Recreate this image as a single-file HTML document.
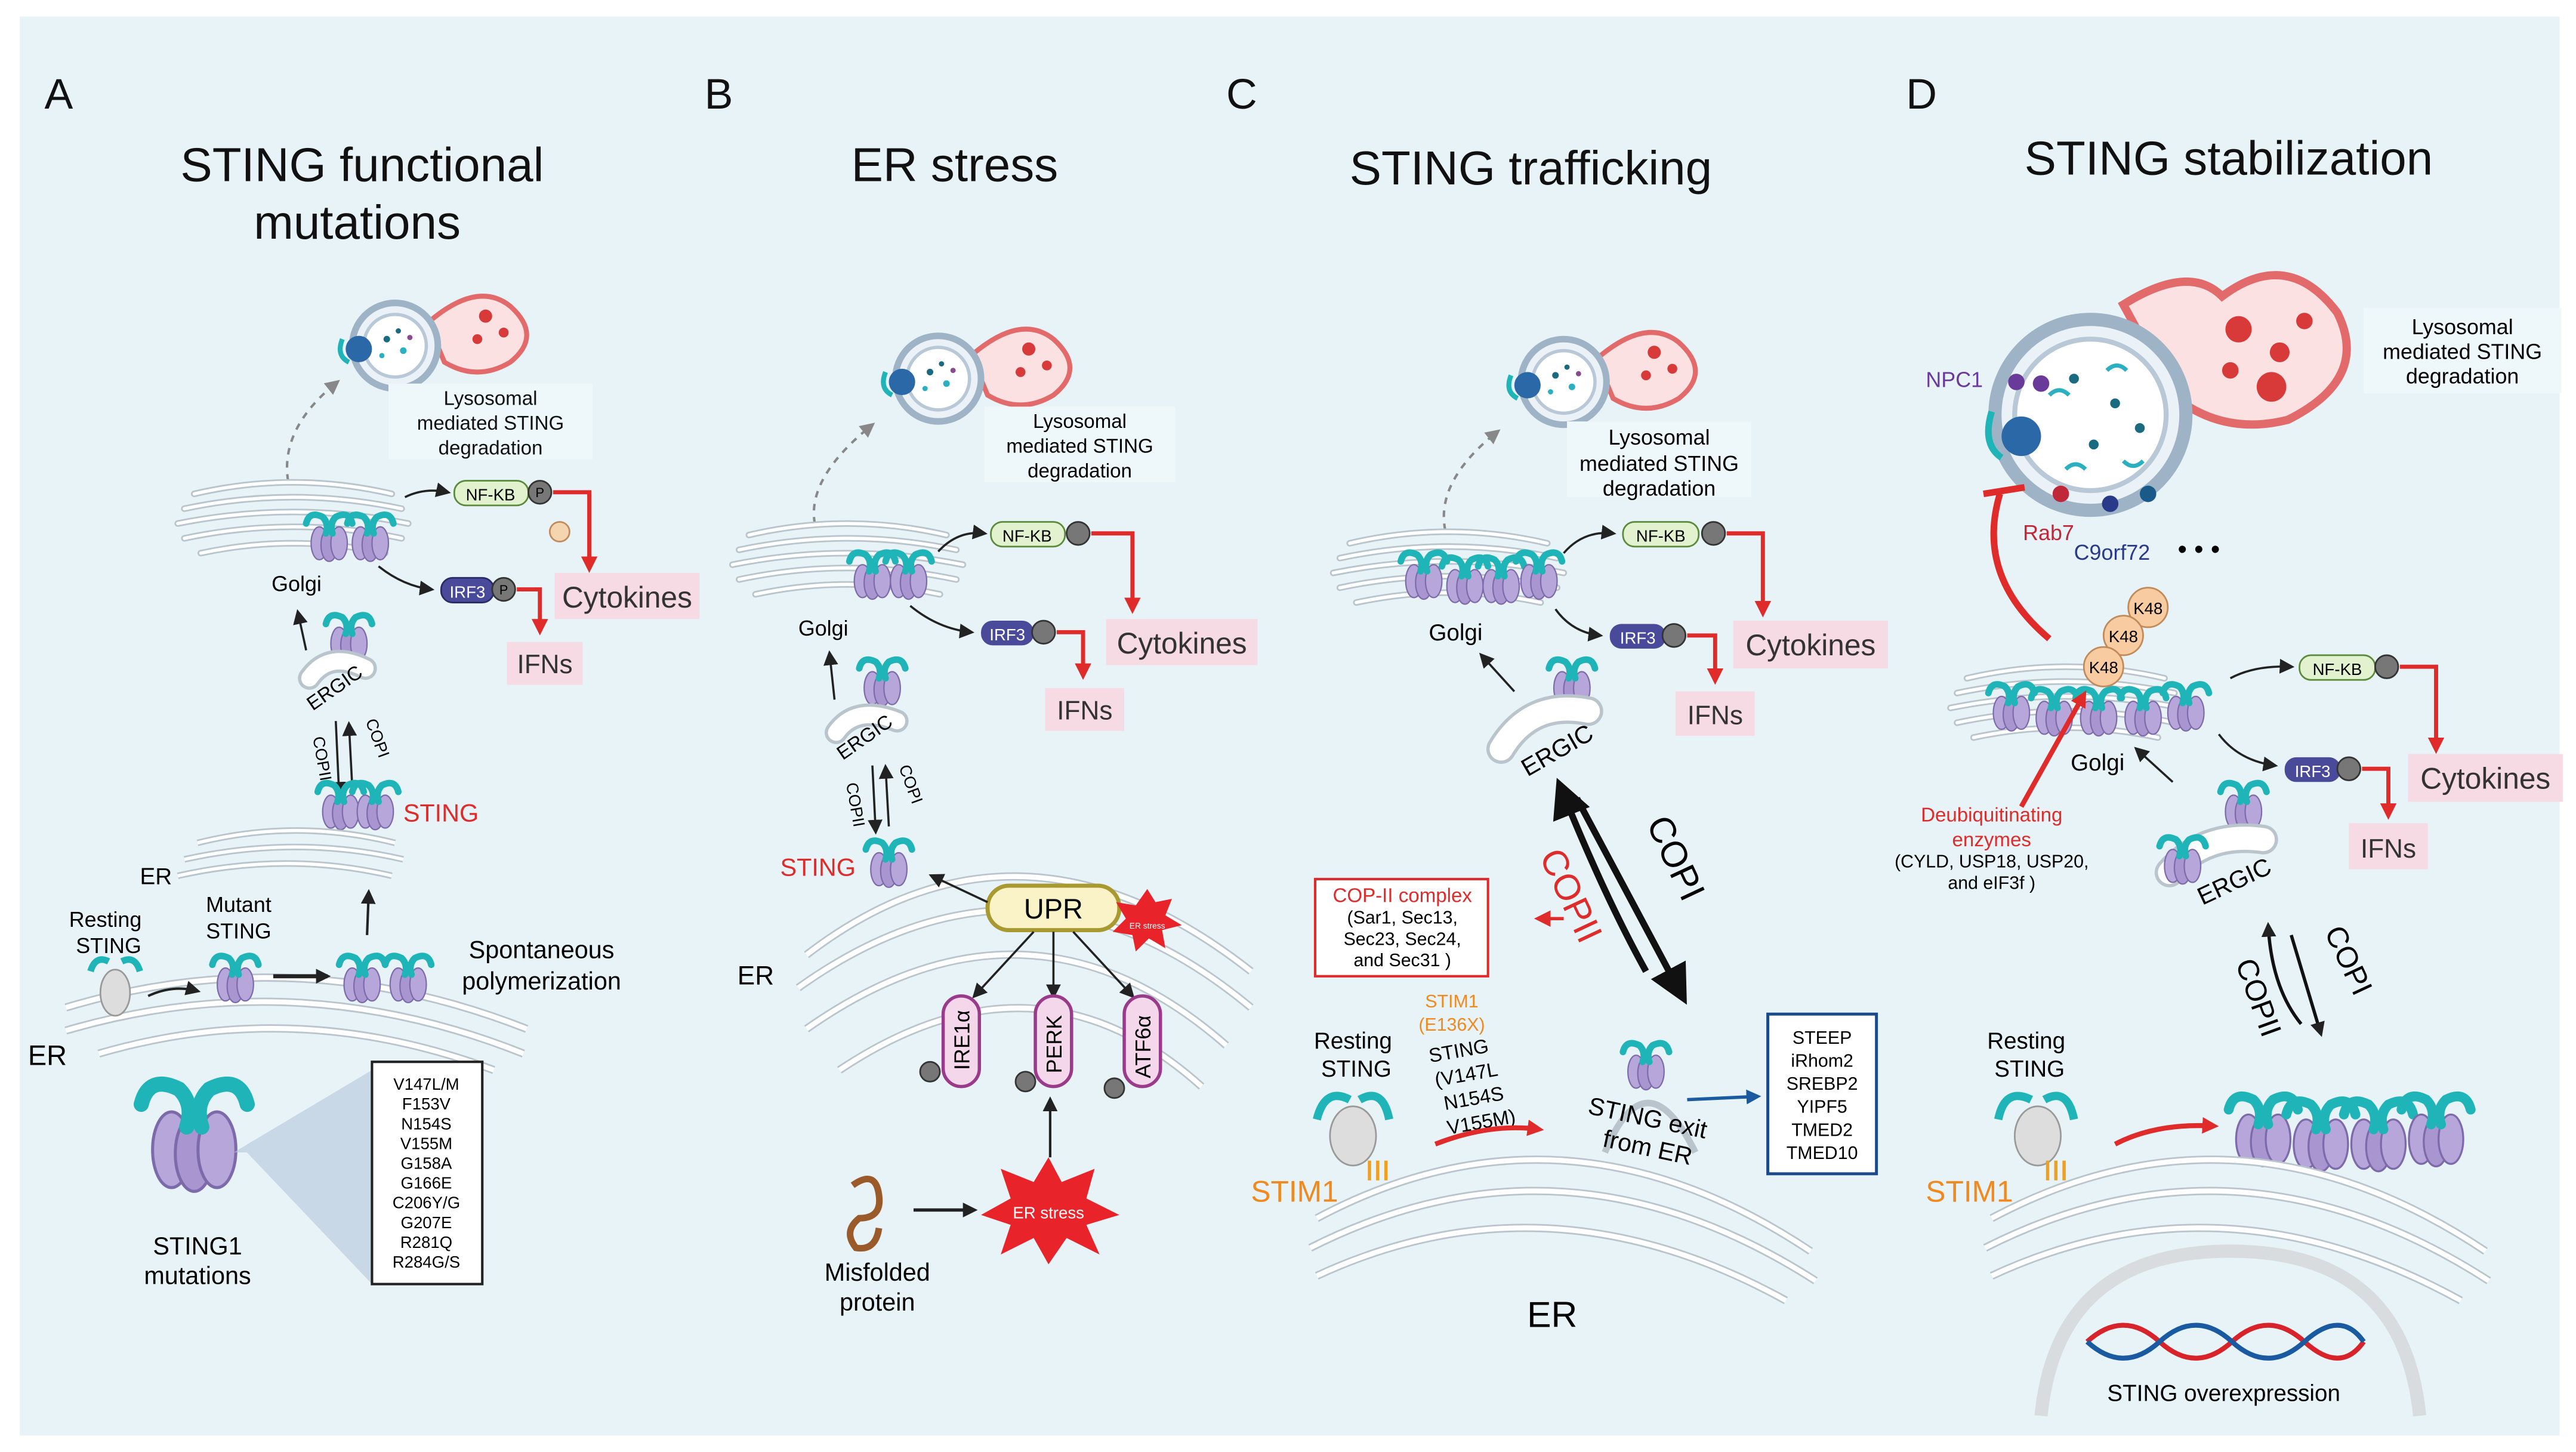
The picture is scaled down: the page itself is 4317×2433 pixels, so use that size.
<!DOCTYPE html>
<html><head><meta charset="utf-8"><style>
html,body{margin:0;padding:0;background:#fff;}
svg{display:block;}
text{font-family:"Liberation Sans",sans-serif;}
</style></head><body>
<svg width="4317" height="2433" viewBox="0 0 1565 882" xmlns="http://www.w3.org/2000/svg">
<defs>
<marker id="ak" markerUnits="userSpaceOnUse" markerWidth="9" markerHeight="9" refX="7" refY="4.5" orient="auto"><path d="M0,0 L9,4.5 L0,9 z" fill="#222"/></marker>
<marker id="akb" markerUnits="userSpaceOnUse" markerWidth="24" markerHeight="24" refX="18" refY="12" orient="auto"><path d="M0,0 L24,12 L0,24 z" fill="#111"/></marker>
<marker id="ar" markerUnits="userSpaceOnUse" markerWidth="10" markerHeight="10" refX="7" refY="5" orient="auto"><path d="M0,0 L10,5 L0,10 z" fill="#e02b2b"/></marker>
<marker id="ab" markerUnits="userSpaceOnUse" markerWidth="9" markerHeight="9" refX="7" refY="4.5" orient="auto"><path d="M0,0 L9,4.5 L0,9 z" fill="#1a5aa0"/></marker>
<marker id="ag" markerUnits="userSpaceOnUse" markerWidth="9" markerHeight="9" refX="7" refY="4.5" orient="auto"><path d="M0,0 L9,4.5 L0,9 z" fill="#888"/></marker>
<g id="st">
<ellipse cx="-6" cy="8" rx="5" ry="10" fill="#b7a6d9" stroke="#7d6aaa" stroke-width="0.8"/>
<ellipse cx="0" cy="9" rx="5" ry="10" fill="#a995d0" stroke="#7d6aaa" stroke-width="0.8"/>
<ellipse cx="6" cy="8" rx="5" ry="10" fill="#b7a6d9" stroke="#7d6aaa" stroke-width="0.8"/>
<path d="M-14,-4 Q-12,-12 -4,-8 Q0,-4 -2,2" fill="none" stroke="#1fb5b8" stroke-width="4" stroke-linecap="round"/>
<path d="M14,-4 Q12,-12 4,-8 Q0,-4 2,2" fill="none" stroke="#1fb5b8" stroke-width="4" stroke-linecap="round"/>
</g>
<g id="golgi" fill="none" stroke="#b9c4cc" stroke-width="4" stroke-linecap="round">
<path d="M0,0 Q60,-14 120,0"/><path d="M-6,9 Q60,-5 126,9"/><path d="M-10,18 Q60,4 130,18"/><path d="M-6,27 Q60,13 126,27"/><path d="M4,36 Q60,24 116,36"/>
</g>
<g id="golgiw" fill="none" stroke="#fff" stroke-width="2" stroke-linecap="round">
<path d="M0,0 Q60,-14 120,0"/><path d="M-6,9 Q60,-5 126,9"/><path d="M-10,18 Q60,4 130,18"/><path d="M-6,27 Q60,13 126,27"/><path d="M4,36 Q60,24 116,36"/>
</g>
<g id="lyso">
<path d="M20,-14 Q50,-40 70,-24 Q90,-6 70,10 Q50,22 30,10 Z" fill="#fbe1e1" stroke="#e36a6a" stroke-width="3"/>
<circle cx="0" cy="0" r="26" fill="#eaf1f7" stroke="#9fb3c6" stroke-width="4"/>
<circle cx="0" cy="0" r="19" fill="#fff" stroke="#b8c8d6" stroke-width="2"/>
<circle cx="-5" cy="-4" r="2" fill="#1a6a80"/><circle cx="5" cy="3" r="2" fill="#2ab0c0"/><circle cx="2" cy="-9" r="1.6" fill="#1a6a80"/><circle cx="-8" cy="6" r="1.6" fill="#2ab0c0"/><circle cx="9" cy="-5" r="1.6" fill="#8a4a90"/>
<circle cx="55" cy="-18" r="4" fill="#d83a3a"/><circle cx="66" cy="-8" r="3" fill="#d83a3a"/><circle cx="50" cy="-4" r="3" fill="#d83a3a"/>
<circle cx="-22" cy="2" r="8" fill="#2a68a8"/><path d="M-32,-4 q-4,10 4,14" stroke="#1fb5b8" stroke-width="3" fill="none"/>
</g>
</defs>

<rect x="0" y="0" width="1565" height="882" fill="#fff"/>
<rect x="12" y="10" width="1543" height="862" fill="#e7f3f6"/>

<g font-size="26" fill="#111">
<text x="27" y="66">A</text><text x="428" y="66">B</text><text x="745" y="66">C</text><text x="1158" y="66">D</text>
</g>
<g font-size="29" fill="#111" text-anchor="middle">
<text x="220" y="110">STING functional</text><text x="217" y="145">mutations</text>
<text x="580" y="110">ER stress</text>
<text x="930" y="112">STING trafficking</text>
<text x="1354" y="106">STING stabilization</text>
</g>

<!-- Panel A -->
<use href="#lyso" x="240" y="210"/>
<rect x="236" y="233" width="124" height="46" fill="#eef7f9"/>
<g font-size="12" text-anchor="middle" fill="#111"><text x="298" y="246">Lysosomal</text><text x="298" y="261">mediated STING</text><text x="298" y="276">degradation</text></g>
<path d="M175,292 Q170,260 205,232" fill="none" stroke="#888" stroke-width="1.5" stroke-dasharray="4,4" marker-end="url(#ag)"/>
<use href="#golgi" x="118" y="300"/><use href="#golgiw" x="118" y="300"/>
<use href="#st" x="200" y="322"/><use href="#st" x="225" y="322"/>
<text x="165" y="359" font-size="13">Golgi</text>
<rect x="276" y="292" width="45" height="15" rx="7" fill="#e2f2cf" stroke="#5a8a3a"/><text x="298" y="304" font-size="10" text-anchor="middle">NF-KB</text>
<circle cx="328" cy="299" r="7" fill="#777" stroke="#333"/><text x="328" y="302" font-size="8" text-anchor="middle">P</text>
<rect x="268" y="351" width="32" height="15" rx="7" fill="#4a4a9a" stroke="#2a2a6a"/><text x="284" y="363" font-size="10" fill="#fff" text-anchor="middle">IRF3</text>
<circle cx="306" cy="358" r="7" fill="#777" stroke="#333"/><text x="306" y="361" font-size="8" text-anchor="middle">P</text>
<path d="M246,302 Q258,296 272,299" fill="none" stroke="#222" stroke-width="1.3" marker-end="url(#ak)"/>
<path d="M230,344 Q245,356 262,358" fill="none" stroke="#222" stroke-width="1.3" marker-end="url(#ak)"/>
<path d="M336,299 H358 V345" fill="none" stroke="#e02b2b" stroke-width="2.5" marker-end="url(#ar)"/>
<path d="M314,358 H328 V383" fill="none" stroke="#e02b2b" stroke-width="2.5" marker-end="url(#ar)"/>
<circle cx="340" cy="323" r="6" fill="#f5d4b0" stroke="#c08a5a"/>
<rect x="337" y="348" width="88" height="28" fill="#f6dbe4"/><text x="381" y="369" font-size="18" text-anchor="middle" fill="#333">Cytokines</text>
<rect x="308" y="390" width="46" height="26" fill="#f6dbe4"/><text x="331" y="409" font-size="16" text-anchor="middle" fill="#333">IFNs</text>
<use href="#st" x="212" y="383"/>
<path d="M188,412 Q200,395 222,406" fill="none" stroke="#b9c4cc" stroke-width="14" stroke-linecap="round"/>
<path d="M188,412 Q200,395 222,406" fill="none" stroke="#fff" stroke-width="10" stroke-linecap="round"/>
<text x="190" y="432" font-size="12" transform="rotate(-35 190 432)">ERGIC</text>
<path d="M186,395 L181,372" stroke="#222" stroke-width="1.3" marker-end="url(#ak)"/>
<path d="M204,438 L206,482" stroke="#222" stroke-width="1.3" marker-end="url(#ak)"/>
<path d="M214,478 L212,440" stroke="#222" stroke-width="1.3" marker-end="url(#ak)"/>
<text x="190" y="448" font-size="10" transform="rotate(80 190 448)">COPII</text>
<text x="222" y="438" font-size="10" transform="rotate(70 222 438)">COPI</text>
<use href="#st" x="207" y="485"/><use href="#st" x="228" y="485"/>
<text x="245" y="499" font-size="15" fill="#e02b2b">STING</text>
<g transform="translate(120,512)"><path d="M0,0 Q60,-15 120,0 M-8,10 Q60,-5 125,10 M-12,20 Q55,5 118,20" fill="none" stroke="#b9c4cc" stroke-width="4"/><path d="M0,0 Q60,-15 120,0 M-8,10 Q60,-5 125,10 M-12,20 Q55,5 118,20" fill="none" stroke="#fff" stroke-width="2"/></g>
<text x="85" y="537" font-size="14">ER</text>
<path d="M223,568 L224,542" stroke="#222" stroke-width="1.5" marker-end="url(#ak)"/>
<g fill="none" stroke="#b9c4cc" stroke-width="5"><path d="M40,612 Q180,570 320,625"/><path d="M40,626 Q180,585 318,640"/><path d="M60,640 Q180,605 300,650"/></g>
<g fill="none" stroke="#fff" stroke-width="3"><path d="M40,612 Q180,570 320,625"/><path d="M40,626 Q180,585 318,640"/><path d="M60,640 Q180,605 300,650"/></g>
<text x="17" y="647" font-size="17">ER</text>
<g font-size="13" text-anchor="middle"><text x="64" y="563">Resting</text><text x="66" y="579">STING</text><text x="145" y="554">Mutant</text><text x="145" y="570">STING</text></g>
<ellipse cx="70" cy="603" rx="9" ry="14" fill="#ddd" stroke="#999"/><path d="M55,590 Q58,580 66,584 M85,590 Q82,580 74,584" stroke="#1fb5b8" stroke-width="4" fill="none"/>
<use href="#st" x="143" y="590"/>
<path d="M90,605 Q105,598 120,602" fill="none" stroke="#222" stroke-width="1.5" marker-end="url(#ak)"/>
<path d="M166,593 L199,593" stroke="#222" stroke-width="2.5" marker-end="url(#ak)"/>
<use href="#st" x="220" y="590"/><use href="#st" x="248" y="590"/>
<g font-size="15" text-anchor="middle"><text x="329" y="582">Spontaneous</text><text x="329" y="601">polymerization</text></g>
<use href="#st" transform="translate(118,680) scale(2.3)"/>
<polygon points="142,700 226,650 226,780 150,700" fill="#b4c6dc" opacity="0.6"/>
<rect x="226" y="645" width="67" height="135" fill="#fff" stroke="#222" stroke-width="1.5"/>
<g font-size="10" text-anchor="middle"><text x="259" y="662">V147L/M</text><text x="259" y="674">F153V</text><text x="259" y="686">N154S</text><text x="259" y="698">V155M</text><text x="259" y="710">G158A</text><text x="259" y="722">G166E</text><text x="259" y="734">C206Y/G</text><text x="259" y="746">G207E</text><text x="259" y="758">R281Q</text><text x="259" y="770">R284G/S</text></g>
<g font-size="15" text-anchor="middle"><text x="120" y="762">STING1</text><text x="120" y="780">mutations</text></g>

<!-- Panel B -->
<use href="#lyso" x="570" y="230"/>
<rect x="598" y="247" width="116" height="46" fill="#eef7f9"/>
<g font-size="12" text-anchor="middle"><text x="656" y="260">Lysosomal</text><text x="656" y="275">mediated STING</text><text x="656" y="290">degradation</text></g>
<path d="M495,318 Q490,290 530,258" fill="none" stroke="#888" stroke-width="1.5" stroke-dasharray="4,4" marker-end="url(#ag)"/>
<use href="#golgi" x="455" y="325"/><use href="#golgiw" x="455" y="325"/>
<use href="#st" x="530" y="345"/><use href="#st" x="552" y="345"/>
<text x="485" y="386" font-size="13">Golgi</text>
<rect x="602" y="317" width="45" height="15" rx="7" fill="#e2f2cf" stroke="#5a8a3a"/><text x="624" y="329" font-size="10" text-anchor="middle">NF-KB</text>
<circle cx="655" cy="324" r="7" fill="#777" stroke="#333"/>
<rect x="596" y="377" width="32" height="15" rx="7" fill="#4a4a9a"/><text x="612" y="389" font-size="10" fill="#fff" text-anchor="middle">IRF3</text>
<circle cx="634" cy="384" r="7" fill="#777" stroke="#333"/>
<path d="M570,335 Q582,322 598,324" fill="none" stroke="#222" stroke-width="1.3" marker-end="url(#ak)"/>
<path d="M553,368 Q570,382 590,384" fill="none" stroke="#222" stroke-width="1.3" marker-end="url(#ak)"/>
<path d="M663,324 H688 V370" fill="none" stroke="#e02b2b" stroke-width="2.5" marker-end="url(#ar)"/>
<path d="M642,384 H658 V410" fill="none" stroke="#e02b2b" stroke-width="2.5" marker-end="url(#ar)"/>
<rect x="672" y="376" width="92" height="28" fill="#f6dbe4"/><text x="718" y="397" font-size="18" text-anchor="middle" fill="#333">Cytokines</text>
<rect x="635" y="418" width="48" height="26" fill="#f6dbe4"/><text x="659" y="437" font-size="16" text-anchor="middle" fill="#333">IFNs</text>
<use href="#st" x="536" y="410"/>
<path d="M508,445 Q520,428 545,438" fill="none" stroke="#b9c4cc" stroke-width="14" stroke-linecap="round"/>
<path d="M508,445 Q520,428 545,438" fill="none" stroke="#fff" stroke-width="10" stroke-linecap="round"/>
<text x="512" y="462" font-size="12" transform="rotate(-35 512 462)">ERGIC</text>
<path d="M507,425 L504,397" stroke="#222" stroke-width="1.3" marker-end="url(#ak)"/>
<path d="M530,465 L532,505" stroke="#222" stroke-width="1.3" marker-end="url(#ak)"/>
<path d="M540,502 L538,466" stroke="#222" stroke-width="1.3" marker-end="url(#ak)"/>
<text x="514" y="476" font-size="10" transform="rotate(80 514 476)">COPII</text>
<text x="546" y="466" font-size="10" transform="rotate(70 546 466)">COPI</text>
<use href="#st" x="540" y="520"/>
<text x="474" y="532" font-size="15" fill="#e02b2b">STING</text>
<g fill="none" stroke="#b9c4cc" stroke-width="5"><path d="M490,580 Q620,480 760,590"/><path d="M485,600 Q625,500 760,612"/><path d="M490,625 Q625,530 745,635"/><path d="M510,650 Q630,570 730,660"/></g>
<g fill="none" stroke="#fff" stroke-width="3"><path d="M490,580 Q620,480 760,590"/><path d="M485,600 Q625,500 760,612"/><path d="M490,625 Q625,530 745,635"/><path d="M510,650 Q630,570 730,660"/></g>
<text x="448" y="598" font-size="16">ER</text>
<rect x="600" y="538" width="80" height="27" rx="13" fill="#fbf3c8" stroke="#a89a30" stroke-width="2.5"/><text x="640" y="558" font-size="17" text-anchor="middle">UPR</text>
<path d="M600,548 L566,532" stroke="#222" stroke-width="1.3" marker-end="url(#ak)"/>
<polygon points="697,540 702,548 712,546 708,556 718,562 706,565 708,576 698,570 690,578 688,568 676,566 684,558 678,548 690,550" fill="#e8232a"/>
<text x="697" y="564" font-size="5" fill="#fff" text-anchor="middle">ER stress</text>
<path d="M628,566 L592,605" stroke="#222" stroke-width="1.3" marker-end="url(#ak)"/>
<path d="M640,566 L640,605" stroke="#222" stroke-width="1.3" marker-end="url(#ak)"/>
<path d="M652,566 L688,605" stroke="#222" stroke-width="1.3" marker-end="url(#ak)"/>
<g fill="#f4d7ea" stroke="#9a3a8a" stroke-width="2">
<rect x="573" y="605" width="22" height="55" rx="11"/><rect x="629" y="605" width="22" height="55" rx="11"/><rect x="683" y="605" width="22" height="55" rx="11"/></g>
<g font-size="13"><text x="589" y="650" transform="rotate(-90 589 650)">IRE1α</text><text x="645" y="652" transform="rotate(-90 645 652)">PERK</text><text x="699" y="655" transform="rotate(-90 699 655)">ATF6α</text></g>
<circle cx="565" cy="651" r="6" fill="#777" stroke="#333"/><circle cx="623" cy="657" r="6" fill="#777" stroke="#333"/><circle cx="677" cy="661" r="6" fill="#777" stroke="#333"/>
<path d="M638,703 L638,668" stroke="#222" stroke-width="1.5" marker-end="url(#ak)"/>
<polygon points="637,703 645,718 665,710 660,728 680,738 660,744 668,762 648,752 637,768 628,752 608,762 614,744 596,738 614,728 608,710 628,718" fill="#e8232a"/>
<text x="637" y="740" font-size="10" fill="#fff" text-anchor="middle">ER stress</text>
<path d="M518,720 q14,-10 16,6 q2,14 -12,14 q-10,8 -2,18 q12,2 14,-12" fill="none" stroke="#9a5a2a" stroke-width="4"/>
<path d="M555,735 L592,735" stroke="#222" stroke-width="2" marker-end="url(#ak)"/>
<g font-size="15" text-anchor="middle"><text x="533" y="778">Misfolded</text><text x="533" y="796">protein</text></g>

<!-- Panel C -->
<use href="#lyso" x="950" y="232"/>
<rect x="952" y="256" width="112" height="46" fill="#eef7f9"/>
<g font-size="13" text-anchor="middle"><text x="1008" y="270">Lysosomal</text><text x="1008" y="286">mediated STING</text><text x="1008" y="301">degradation</text></g>
<path d="M878,322 Q872,292 910,262" fill="none" stroke="#888" stroke-width="1.5" stroke-dasharray="4,4" marker-end="url(#ag)"/>
<use href="#golgi" x="820" y="330"/><use href="#golgiw" x="820" y="330"/>
<use href="#st" x="865" y="345"/><use href="#st" x="890" y="348"/><use href="#st" x="912" y="348"/><use href="#st" x="935" y="345"/>
<text x="868" y="389" font-size="14">Golgi</text>
<rect x="986" y="317" width="46" height="15" rx="7" fill="#e2f2cf" stroke="#5a8a3a"/><text x="1009" y="329" font-size="10" text-anchor="middle">NF-KB</text>
<circle cx="1041" cy="324" r="7" fill="#777" stroke="#333"/>
<rect x="978" y="379" width="34" height="15" rx="7" fill="#4a4a9a"/><text x="995" y="391" font-size="10" fill="#fff" text-anchor="middle">IRF3</text>
<circle cx="1017" cy="386" r="7" fill="#777" stroke="#333"/>
<path d="M950,336 Q962,322 980,324" fill="none" stroke="#222" stroke-width="1.3" marker-end="url(#ak)"/>
<path d="M945,370 Q955,384 972,386" fill="none" stroke="#222" stroke-width="1.3" marker-end="url(#ak)"/>
<path d="M1049,324 H1071 V372" fill="none" stroke="#e02b2b" stroke-width="2.5" marker-end="url(#ar)"/>
<path d="M1025,386 H1042 V413" fill="none" stroke="#e02b2b" stroke-width="2.5" marker-end="url(#ar)"/>
<rect x="1053" y="377" width="94" height="29" fill="#f6dbe4"/><text x="1100" y="398" font-size="18" text-anchor="middle" fill="#333">Cytokines</text>
<rect x="1018" y="420" width="48" height="27" fill="#f6dbe4"/><text x="1042" y="440" font-size="16" text-anchor="middle" fill="#333">IFNs</text>
<use href="#st" x="955" y="410"/>
<path d="M912,455 Q930,425 965,432" fill="none" stroke="#b9c4cc" stroke-width="18" stroke-linecap="round"/>
<path d="M912,455 Q930,425 965,432" fill="none" stroke="#fff" stroke-width="14" stroke-linecap="round"/>
<text x="928" y="472" font-size="15" transform="rotate(-30 928 472)">ERGIC</text>
<path d="M920,420 L900,398" stroke="#222" stroke-width="1.3" marker-end="url(#ak)"/>
<path d="M958,485 L1022,605" stroke="#111" stroke-width="4" marker-end="url(#akb)"/>
<path d="M1000,590 Q975,545 948,478" fill="none" stroke="#111" stroke-width="4" marker-end="url(#akb)"/>
<text x="1000" y="500" font-size="22" transform="rotate(65 1000 500)">COPI</text>
<text x="935" y="520" font-size="22" fill="#e02b2b" transform="rotate(65 935 520)">COPII</text>
<path d="M950,558 L935,558" stroke="#e02b2b" stroke-width="2" marker-end="url(#ar)"/>
<rect x="799" y="534" width="105" height="59" fill="#fff" stroke="#e02b2b" stroke-width="1.5"/>
<text x="852" y="548" font-size="12" fill="#e02b2b" text-anchor="middle">COP-II complex</text>
<g font-size="11" text-anchor="middle"><text x="852" y="561">(Sar1, Sec13,</text><text x="852" y="574">Sec23, Sec24,</text><text x="852" y="587">and Sec31 )</text></g>
<text x="882" y="612" font-size="11" fill="#f08a20" text-anchor="middle">STIM1</text>
<text x="882" y="626" font-size="11" fill="#f08a20" text-anchor="middle">(E136X)</text>
<g font-size="12" text-anchor="middle" transform="rotate(-10 890 660)"><text x="890" y="642">STING</text><text x="892" y="657">(V147L</text><text x="894" y="672">N154S</text><text x="896" y="687">V155M)</text></g>
<path d="M872,695 Q905,682 935,686" fill="none" stroke="#e02b2b" stroke-width="3" marker-end="url(#ar)"/>
<g font-size="14" text-anchor="middle"><text x="822" y="637">Resting</text><text x="824" y="654">STING</text></g>
<ellipse cx="822" cy="690" rx="14" ry="18" fill="#ddd" stroke="#999"/><path d="M800,680 Q805,660 820,668 M844,680 Q840,660 826,668" stroke="#1fb5b8" stroke-width="5" fill="none"/>
<text x="760" y="730" font-size="18" fill="#f08a20">STIM1</text>
<g stroke="#f0a020" stroke-width="2"><path d="M832,705 v12 M837,705 v12 M842,705 v12"/></g>
<g fill="none" stroke="#b9c4cc" stroke-width="5"><path d="M800,740 Q950,660 1100,760"/><path d="M796,758 Q950,680 1103,778"/><path d="M800,775 Q940,710 1085,790"/></g>
<g fill="none" stroke="#fff" stroke-width="3"><path d="M800,740 Q950,660 1100,760"/><path d="M796,758 Q950,680 1103,778"/><path d="M800,775 Q940,710 1085,790"/></g>
<path d="M975,700 Q1000,640 1030,700" fill="none" stroke="#b9c4cc" stroke-width="4"/>
<use href="#st" x="1000" y="643"/>
<g font-size="15" text-anchor="middle"><text x="1000" y="684" transform="rotate(12 1000 684)">STING exit</text><text x="1000" y="702" transform="rotate(12 1000 702)">from ER</text></g>
<path d="M1025,668 L1068,666" stroke="#1a5aa0" stroke-width="2" marker-end="url(#ab)"/>
<rect x="1074" y="616" width="66" height="97" fill="#fff" stroke="#1a4a8a" stroke-width="1.8"/>
<g font-size="11" text-anchor="middle"><text x="1107" y="634">STEEP</text><text x="1107" y="648">iRhom2</text><text x="1107" y="662">SREBP2</text><text x="1107" y="676">YIPF5</text><text x="1107" y="690">TMED2</text><text x="1107" y="704">TMED10</text></g>
<text x="943" y="806" font-size="22" text-anchor="middle">ER</text>

<!-- Panel D -->
<path d="M1290,185 Q1330,160 1350,180 Q1390,150 1420,190 Q1440,230 1390,255 Q1350,265 1320,240 Z" fill="#fbe1e1" stroke="#e36a6a" stroke-width="5"/>
<g fill="#d83a3a"><circle cx="1360" cy="200" r="8"/><circle cx="1385" cy="214" r="6"/><circle cx="1380" cy="235" r="9"/><circle cx="1400" cy="195" r="5"/><circle cx="1355" cy="225" r="5"/></g>
<circle cx="1270" cy="252" r="58" fill="#eaf1f7" stroke="#9fb3c6" stroke-width="8"/>
<circle cx="1270" cy="252" r="46" fill="#fff" stroke="#b8c8d6" stroke-width="3"/>
<g fill="#1a6a80"><circle cx="1260" cy="230" r="3"/><circle cx="1285" cy="245" r="3"/><circle cx="1272" cy="270" r="3"/><circle cx="1300" cy="260" r="3"/></g>
<g fill="none" stroke="#2ab0c0" stroke-width="2.5"><path d="M1245,240 q6,-6 12,0"/><path d="M1280,225 q6,-6 12,0"/><path d="M1255,285 q6,-6 12,0"/><path d="M1290,280 q6,6 12,0"/></g>
<circle cx="1228" cy="265" r="12" fill="#2a68a8"/><path d="M1210,250 q-6,20 6,28" stroke="#1fb5b8" stroke-width="4" fill="none"/>
<circle cx="1225" cy="232" r="5" fill="#6a3a9a"/><circle cx="1240" cy="233" r="5" fill="#6a3a9a"/>
<text x="1170" y="235" font-size="13" fill="#6a3a9a">NPC1</text>
<circle cx="1252" cy="300" r="5" fill="#c0283a"/><circle cx="1282" cy="306" r="5" fill="#2a3a8a"/><circle cx="1305" cy="300" r="5" fill="#1a5a8a"/>
<text x="1229" y="328" font-size="13" fill="#c0283a">Rab7</text>
<text x="1260" y="340" font-size="13" fill="#2a3a8a">C9orf72</text>
<text x="1323" y="339" font-size="16">• • •</text>
<rect x="1436" y="187" width="120" height="52" fill="#eef7f9"/>
<g font-size="13" text-anchor="middle"><text x="1496" y="203">Lysosomal</text><text x="1496" y="218">mediated STING</text><text x="1496" y="233">degradation</text></g>
<path d="M1245,388 Q1200,350 1215,300" fill="none" stroke="#e02b2b" stroke-width="4"/>
<path d="M1205,300 L1230,296" stroke="#e02b2b" stroke-width="4"/>
<use href="#golgi" x="1195" y="412"/><use href="#golgiw" x="1195" y="412"/>
<use href="#st" x="1222" y="425"/><use href="#st" x="1248" y="428"/><use href="#st" x="1275" y="428"/><use href="#st" x="1302" y="428"/><use href="#st" x="1328" y="425"/>
<g fill="#f8cba0" stroke="#c08a5a"><circle cx="1305" cy="369" r="12"/><circle cx="1290" cy="386" r="12"/><circle cx="1278" cy="405" r="12"/></g>
<g font-size="10" text-anchor="middle"><text x="1305" y="373">K48</text><text x="1290" y="390">K48</text><text x="1278" y="409">K48</text></g>
<text x="1258" y="468" font-size="14">Golgi</text>
<path d="M1228,490 L1266,422" stroke="#e02b2b" stroke-width="3" marker-end="url(#ar)"/>
<g font-size="12" text-anchor="middle"><text x="1210" y="499" fill="#e02b2b">Deubiquitinating</text><text x="1210" y="514" fill="#e02b2b">enzymes</text><text x="1210" y="527" font-size="11">(CYLD, USP18, USP20,</text><text x="1210" y="540" font-size="11">and eIF3f )</text></g>
<rect x="1397" y="398" width="46" height="15" rx="7" fill="#e2f2cf" stroke="#5a8a3a"/><text x="1420" y="410" font-size="10" text-anchor="middle">NF-KB</text>
<circle cx="1450" cy="405" r="7" fill="#777" stroke="#333"/>
<rect x="1388" y="460" width="34" height="15" rx="7" fill="#4a4a9a"/><text x="1405" y="472" font-size="10" fill="#fff" text-anchor="middle">IRF3</text>
<circle cx="1427" cy="467" r="7" fill="#777" stroke="#333"/>
<path d="M1355,412 Q1370,404 1392,405" fill="none" stroke="#222" stroke-width="1.3" marker-end="url(#ak)"/>
<path d="M1348,446 Q1360,462 1382,465" fill="none" stroke="#222" stroke-width="1.3" marker-end="url(#ak)"/>
<path d="M1458,405 H1480 V455" fill="none" stroke="#e02b2b" stroke-width="2.5" marker-end="url(#ar)"/>
<path d="M1435,467 H1451 V495" fill="none" stroke="#e02b2b" stroke-width="2.5" marker-end="url(#ar)"/>
<rect x="1463" y="458" width="94" height="29" fill="#f6dbe4"/><text x="1510" y="479" font-size="18" text-anchor="middle" fill="#333">Cytokines</text>
<rect x="1427" y="500" width="48" height="28" fill="#f6dbe4"/><text x="1451" y="521" font-size="16" text-anchor="middle" fill="#333">IFNs</text>
<use href="#st" x="1363" y="485"/>
<path d="M1318,530 Q1340,505 1375,510" fill="none" stroke="#b9c4cc" stroke-width="18" stroke-linecap="round"/>
<path d="M1318,530 Q1340,505 1375,510" fill="none" stroke="#fff" stroke-width="14" stroke-linecap="round"/>
<use href="#st" x="1326" y="518"/>
<text x="1338" y="550" font-size="15" transform="rotate(-25 1338 550)">ERGIC</text>
<path d="M1320,475 L1298,455" stroke="#222" stroke-width="1.3" marker-end="url(#ak)"/>
<path d="M1392,568 L1410,628" stroke="#111" stroke-width="2" marker-end="url(#ak)"/>
<path d="M1398,622 Q1380,600 1378,562" fill="none" stroke="#111" stroke-width="2" marker-end="url(#ak)"/>
<text x="1412" y="566" font-size="18" transform="rotate(65 1412 566)">COPI</text>
<text x="1358" y="585" font-size="18" transform="rotate(70 1358 585)">COPII</text>
<g font-size="14" text-anchor="middle"><text x="1231" y="637">Resting</text><text x="1233" y="654">STING</text></g>
<ellipse cx="1238" cy="690" rx="14" ry="18" fill="#ddd" stroke="#999"/><path d="M1214,680 Q1218,660 1234,668 M1260,680 Q1256,660 1242,668" stroke="#1fb5b8" stroke-width="5" fill="none"/>
<text x="1170" y="730" font-size="18" fill="#f08a20">STIM1</text>
<g stroke="#f0a020" stroke-width="2"><path d="M1244,705 v12 M1249,705 v12 M1254,705 v12"/></g>
<path d="M1285,695 Q1310,682 1345,684" fill="none" stroke="#e02b2b" stroke-width="3" marker-end="url(#ar)"/>
<use href="#st" transform="translate(1375,680) scale(1.5)"/><use href="#st" transform="translate(1410,683) scale(1.5)"/><use href="#st" transform="translate(1445,683) scale(1.5)"/><use href="#st" transform="translate(1480,680) scale(1.5)"/>
<g fill="none" stroke="#b9c4cc" stroke-width="5"><path d="M1210,740 Q1360,660 1510,760"/><path d="M1206,758 Q1360,680 1512,778"/><path d="M1210,775 Q1350,710 1495,790"/></g>
<g fill="none" stroke="#fff" stroke-width="3"><path d="M1210,740 Q1360,660 1510,760"/><path d="M1206,758 Q1360,680 1512,778"/><path d="M1210,775 Q1350,710 1495,790"/></g>
<path d="M1240,860 Q1250,760 1355,760 Q1460,760 1470,860" fill="none" stroke="#d8dcde" stroke-width="8"/>
<path d="M1268,815 Q1290,795 1312,815 T1356,815 T1400,815 T1436,815" fill="none" stroke="#d8232a" stroke-width="3"/>
<path d="M1268,815 Q1290,835 1312,815 T1356,815 T1400,815 T1436,815" fill="none" stroke="#1a5aa0" stroke-width="3"/>
<text x="1351" y="851" font-size="14" text-anchor="middle">STING overexpression</text>
</svg>
</body></html>
